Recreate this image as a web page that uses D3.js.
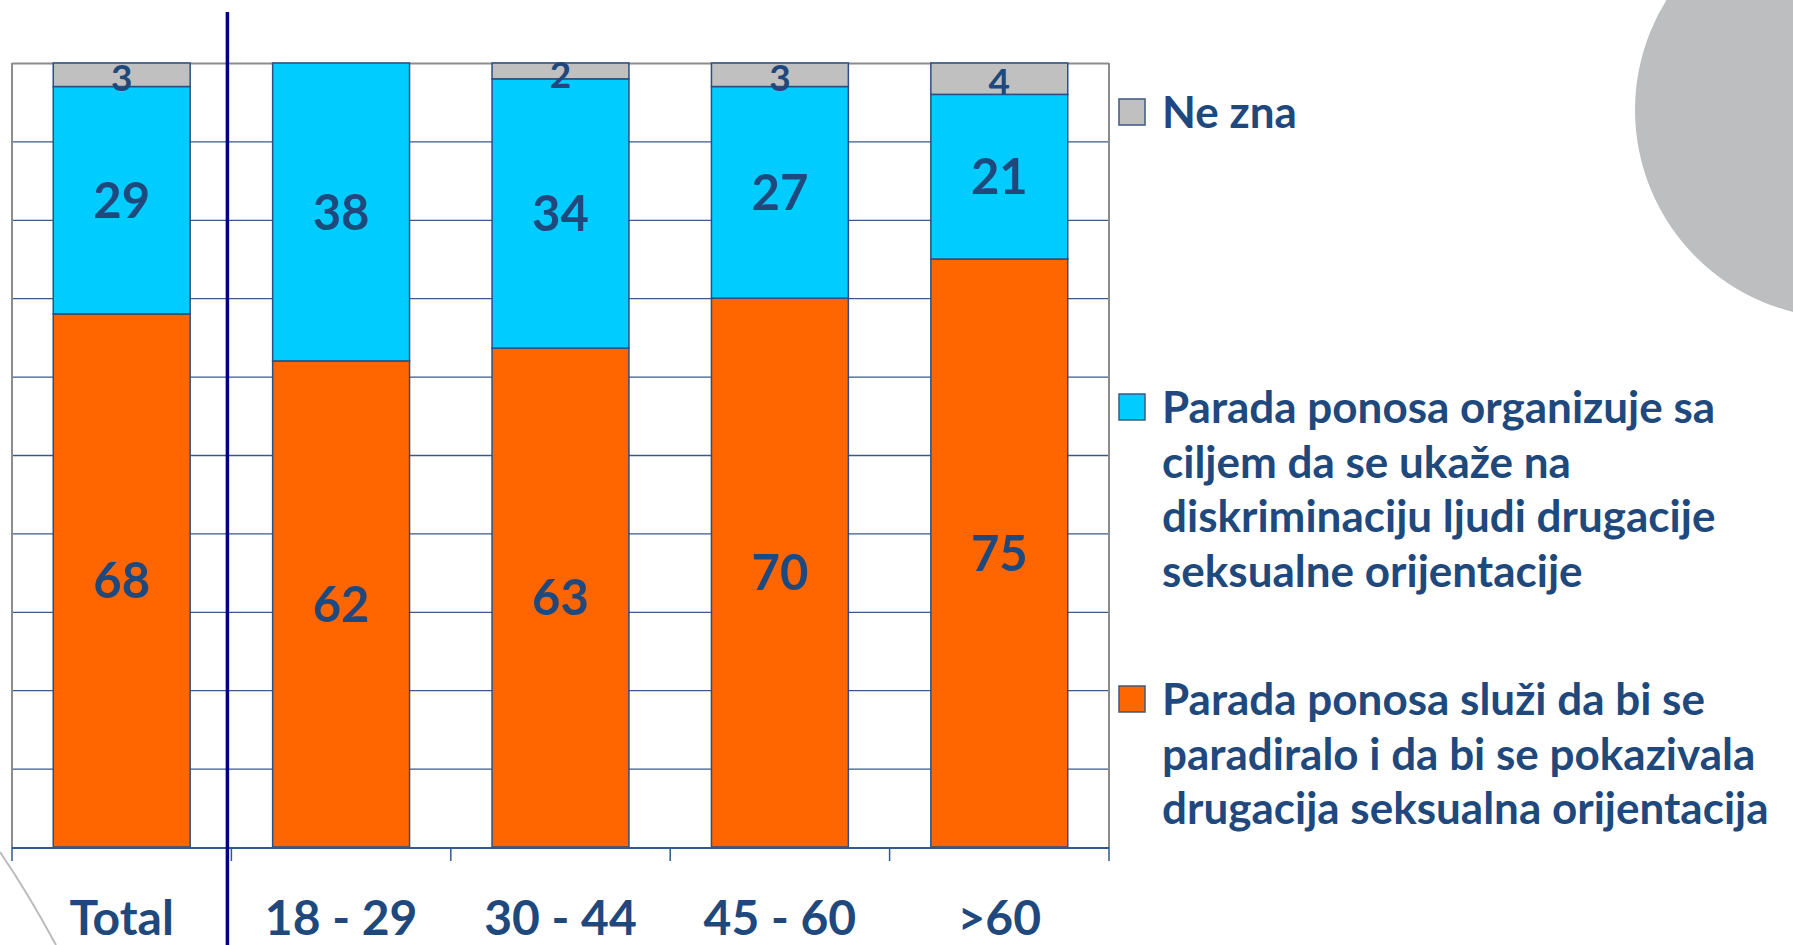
<!DOCTYPE html>
<meta charset="utf-8">
<script src="https://d3js.org/d3.v7.min.js"></script>
<style>
  body { margin: 0; background: #fff; }
  text { font-family: "Lato", "Open Sans", sans-serif; font-weight: bold; fill: #1F497D; }
</style>
<div id="chart"></div>
<script>

// data (percent)
const categories = ["Total", "18 - 29", "30 - 44", "45 - 60", ">60"];
const paradiranje = [68, 62, 63, 70, 75];
const diskriminacija = [29, 38, 34, 27, 21];
const neZna = [3, 0, 2, 3, 4];

const seriesKeys = ["paradiranje", "diskriminacija", "neZna"];
const seriesColors = ["#FF6600", "#00CCFF", "#C0C0C0"];
const legendLines = [
  ["Ne zna"],
  ["Parada ponosa organizuje sa", "ciljem da se ukaže na", "diskriminaciju ljudi drugacije", "seksualne orijentacije"],
  ["Parada ponosa služi da bi se", "paradiralo i da bi se pokazivala", "drugacija seksualna orijentacija"]
];
const legendColors = ["#C0C0C0", "#00CCFF", "#FF6600"];

const W = 1793, H = 945;
const plot = {left: 12, right: 1109, top: 63, bottom: 847};

const svg = d3.select("#chart").append("svg")
    .attr("width", W)
    .attr("height", H);

// decorative grey shapes of the slide
svg.append("circle")
    .attr("cx", 1843).attr("cy", 110).attr("r", 208)
    .style("fill", "#BDBEC0");
svg.append("path")
    .attr("d", "M0,852 Q28,893 56,945")
    .style("fill", "none")
    .style("stroke", "#BBBBBB")
    .style("stroke-width", 2);

// table for the stack
const table = categories.map(function(c, i) {
  return {cat: c, paradiranje: paradiranje[i], diskriminacija: diskriminacija[i], neZna: neZna[i]};
});
const stacked = d3.stack().keys(seriesKeys).offset(d3.stackOffsetExpand)(table);

const x = d3.scaleBand()
    .domain(categories)
    .range([plot.left, plot.right])
    .paddingInner(0.376)
    .paddingOuter(0.188);

const y = d3.scaleLinear()
    .domain([0, 1])
    .range([plot.bottom, plot.top]);

// horizontal gridlines
svg.append("g")
    .attr("transform", "translate(" + plot.left + ",0)")
    .call(d3.axisLeft(y).ticks(10).tickSize(-(plot.right - plot.left)).tickFormat(""))
    .call(function(g) {
      g.select(".domain").remove();
      g.selectAll(".tick line")
        .style("stroke", function(d) { return d === 1 ? "#8C8C8C" : "#3A5A88"; })
        .style("stroke-width", function(d) { return d === 1 ? 2 : 1.3; });
      g.selectAll(".tick").filter(function(d) { return d === 0; }).remove();
    });

// plot border left / right
svg.append("line")
    .attr("x1", plot.left).attr("x2", plot.left)
    .attr("y1", plot.top).attr("y2", plot.bottom)
    .style("stroke", "#8C8C8C").style("stroke-width", 2);
svg.append("line")
    .attr("x1", plot.right).attr("x2", plot.right)
    .attr("y1", plot.top).attr("y2", plot.bottom)
    .style("stroke", "#8C8C8C").style("stroke-width", 2);

// bars
const layers = svg.selectAll("g.layer")
  .data(stacked)
  .enter()
  .append("g")
    .attr("class", "layer")
    .style("fill", function(d, i) { return seriesColors[i]; });

layers.selectAll("rect")
  .data(function(d) { return d; })
  .enter()
  .append("rect")
    .attr("x", function(d) { return x(d.data.cat); })
    .attr("y", function(d) { return y(d[1]); })
    .attr("width", x.bandwidth())
    .attr("height", function(d) { return y(d[0]) - y(d[1]); })
    .style("stroke", "#2B4F80")
    .style("stroke-width", 1.5);

// value labels
stacked.forEach(function(layer) {
  svg.selectAll(null)
    .data(layer.filter(function(d) { return d.data[layer.key] > 0; }))
    .enter()
    .append("text")
      .attr("x", function(d) { return x(d.data.cat) + x.bandwidth() / 2; })
      .attr("y", function(d) { return y((d[0] + d[1]) / 2); })
      .attr("dy", layer.key === "neZna" ? "0.45em" : "0.36em")
      .attr("text-anchor", "middle")
      .style("font-size", layer.key === "neZna" ? "37px" : "49px")
      .text(function(d) { return d.data[layer.key]; });
});

// x axis line and ticks at band boundaries
const half = x.step() * x.paddingInner() / 2;
const bounds = categories.map(function(c) { return x(c) - half; }).concat([plot.right]);
svg.append("line")
    .attr("x1", plot.left).attr("x2", plot.right)
    .attr("y1", plot.bottom + 1).attr("y2", plot.bottom + 1)
    .style("stroke", "#2E5C8A").style("stroke-width", 2);
svg.selectAll("line.tick")
  .data(bounds)
  .enter()
  .append("line")
    .attr("class", "tick")
    .attr("x1", function(d) { return d; }).attr("x2", function(d) { return d; })
    .attr("y1", plot.bottom).attr("y2", plot.bottom + 14)
    .style("stroke", "#2E5C8A").style("stroke-width", 1.5);

svg.selectAll("text.cat")
  .data(categories)
  .enter()
  .append("text")
    .attr("class", "cat")
    .attr("x", function(d) { return x(d) + x.bandwidth() / 2; })
    .attr("y", 935)
    .attr("text-anchor", "middle")
    .style("font-size", "48px")
    .text(function(d) { return d; });

// separator between Total and the age groups
svg.append("line")
    .attr("x1", bounds[1] - 4).attr("x2", bounds[1] - 4)
    .attr("y1", 12).attr("y2", H)
    .style("stroke", "#000080").style("stroke-width", 3.5);

// legend
const legendBase = [128, 423, 715];
const lineGap = 54.5;
legendLines.forEach(function(lines, i) {
  const g = svg.append("g");
  g.append("rect")
      .attr("x", 1119).attr("y", legendBase[i] - 29)
      .attr("width", 26).attr("height", 26)
      .style("fill", legendColors[i])
      .style("stroke", "#3C5A7E")
      .style("stroke-width", 1.5);
  g.selectAll("text")
    .data(lines)
    .enter()
    .append("text")
      .attr("x", 1162)
      .attr("y", function(d, j) { return legendBase[i] + j * lineGap; })
      .style("font-size", "44px")
      .text(function(d) { return d; });
});
</script>
